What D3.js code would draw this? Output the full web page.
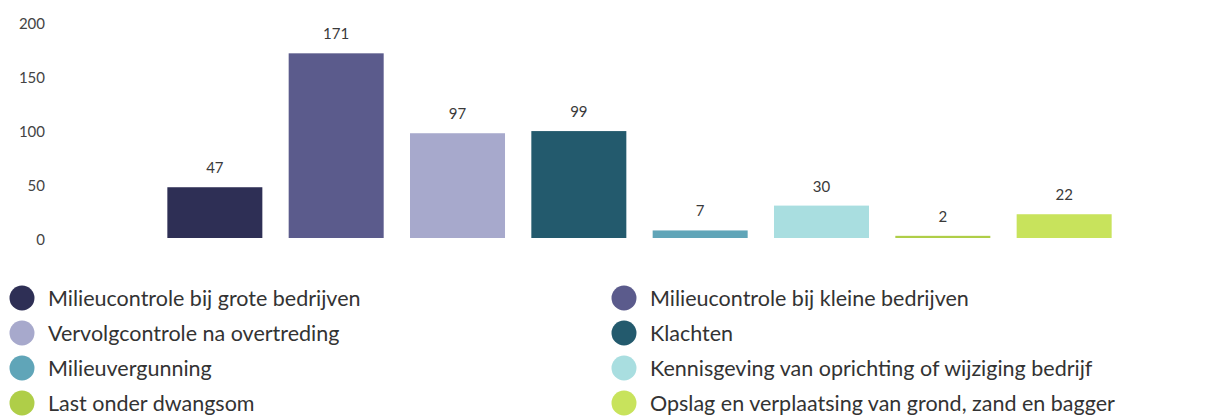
<!DOCTYPE html>
<html>
<head>
<meta charset="utf-8">
<script src="https://cdn.jsdelivr.net/npm/d3@7"></script>
<style>
  html, body { margin: 0; padding: 0; background: #ffffff; }
  svg { display: block; font-family: Lato, "Open Sans", sans-serif; }
</style>
</head>
<body>
<svg id="chart" width="1209" height="420"></svg>
<script>
// Inspection counts per category
const categories = [
  "Milieucontrole bij grote bedrijven",
  "Milieucontrole bij kleine bedrijven",
  "Vervolgcontrole na overtreding",
  "Klachten",
  "Milieuvergunning",
  "Kennisgeving van oprichting of wijziging bedrijf",
  "Last onder dwangsom",
  "Opslag en verplaatsing van grond, zand en bagger"
];
const values = [47, 171, 97, 99, 7, 30, 2, 22];
const colors = ["#2e2f55", "#5b5b8c", "#a7a9cc", "#235a6d", "#60a5b8", "#a9dee0", "#afce48", "#c8e35c"];
const yTicks = [0, 50, 100, 150, 200];

const svg = d3.select("#chart");

const x = d3.scaleBand()
  .domain(categories)
  .range([154, 1125])
  .paddingInner(0.217)
  .paddingOuter(0.11);

const y = d3.scaleLinear()
  .domain([0, 200])
  .range([238, 22]);

// Y axis: labels only, no domain line or ticks
const yAxis = svg.append("g")
  .attr("transform", "translate(45,2)")
  .call(d3.axisLeft(y).tickValues(yTicks).tickSize(0).tickPadding(0));
yAxis.select(".domain").remove();
yAxis.selectAll("text")
  .attr("fill", "#444")
  .style("font-size", "15px")
  .style("font-family", "Lato, 'Open Sans', sans-serif");

// Bars
svg.append("g").selectAll("rect")
  .data(values)
  .join("rect")
  .attr("x", (d, i) => x(categories[i]))
  .attr("y", d => y(d))
  .attr("width", x.bandwidth())
  .attr("height", d => y(0) - y(d))
  .attr("fill", (d, i) => colors[i]);

// Value labels above bars
svg.append("g").selectAll("text")
  .data(values)
  .join("text")
  .attr("x", (d, i) => x(categories[i]) + x.bandwidth() / 2)
  .attr("y", d => y(d) - 14)
  .attr("text-anchor", "middle")
  .attr("fill", "#3a3a3a")
  .style("font-size", "15px")
  .text(d => d);

// Legend: two columns, items alternating left/right
const legendCols = [22, 624];
const legendRowY = [298, 333, 368, 403];
const legend = svg.append("g").selectAll("g")
  .data(categories)
  .join("g")
  .attr("transform", (d, i) => `translate(${legendCols[i % 2]},${legendRowY[Math.floor(i / 2)]})`);

legend.append("circle")
  .attr("r", 12.5)
  .attr("fill", (d, i) => colors[i]);

legend.append("text")
  .attr("x", 26)
  .attr("dy", "0.35em")
  .attr("fill", "#333")
  .style("font-size", "21.5px")
  .text(d => d);
</script>
</body>
</html>
